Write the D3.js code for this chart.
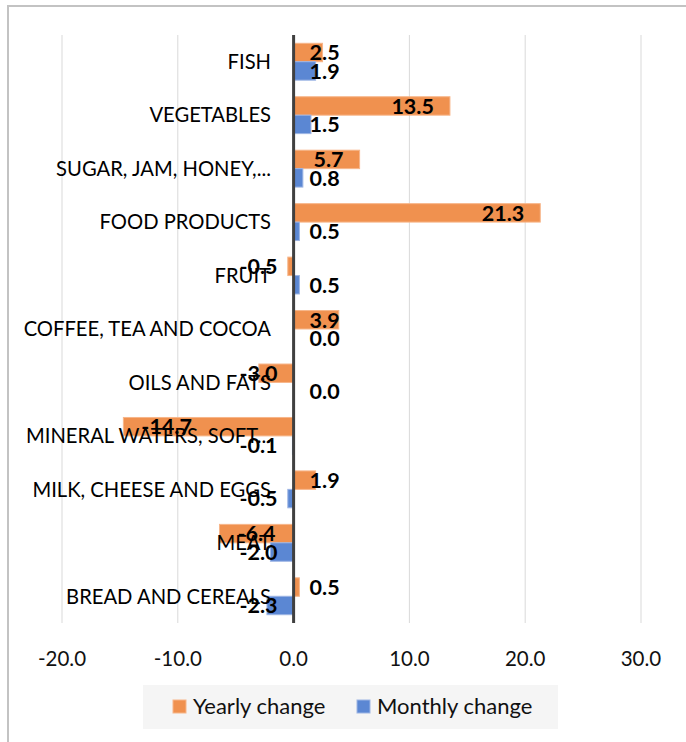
<!DOCTYPE html>
<html>
<head>
<meta charset="utf-8">
<script src="https://cdn.jsdelivr.net/npm/d3@7"></script>
<style>
  body { margin: 0; background: #fff; }
  text { font-family: Lato, "Open Sans", sans-serif; }
</style>
</head>
<body>
<div id="chart"></div>
<script>
// categories listed top to bottom as they appear on the chart
const categories = ["FISH", "VEGETABLES", "SUGAR, JAM, HONEY,...", "FOOD PRODUCTS", "FRUIT",
  "COFFEE, TEA AND COCOA", "OILS AND FATS", "MINERAL WATERS, SOFT...", "MILK, CHEESE AND EGGS",
  "MEAT", "BREAD AND CEREALS"];
const yearly = [2.5, 13.5, 5.7, 21.3, -0.5, 3.9, -3.0, -14.7, 1.9, -6.4, 0.5];
const monthly = [1.9, 1.5, 0.8, 0.5, 0.5, 0.0, 0.0, -0.1, -0.5, -2.0, -2.3];
const seriesNames = ["Yearly change", "Monthly change"];
const xTicks = [-20, -10, 0, 10, 20, 30];

const W = 686, H = 742;
const MARGIN = { TOP: 35, BOTTOM: 119, LEFT: 62, RIGHT: 45 };
const colors = { "Yearly change": "#f0914f", "Monthly change": "#5b87d3" };
const edges = { "Yearly change": "#f7b68a", "Monthly change": "#9db5e4" };

const svg = d3.select("#chart").append("svg")
  .attr("width", W).attr("height", H);

// chart area border (only left/top visible, rest is cropped)
svg.append("rect")
  .attr("x", 8).attr("y", 6).attr("width", 720).attr("height", 780)
  .attr("fill", "none").attr("stroke", "#c3c3c3").attr("stroke-width", 2);

const x = d3.scaleLinear().domain([-20, 30]).range([MARGIN.LEFT, W - MARGIN.RIGHT]);
const y = d3.scaleBand().domain(categories)
  .range([MARGIN.TOP, H - MARGIN.BOTTOM])
  .paddingInner(0.31).paddingOuter(0.155);
const ySub = d3.scaleBand().domain(seriesNames).range([0, y.bandwidth()]);

// gridlines
svg.append("g").selectAll("line").data(xTicks).join("line")
  .attr("x1", d => x(d)).attr("x2", d => x(d))
  .attr("y1", MARGIN.TOP).attr("y2", H - MARGIN.BOTTOM)
  .attr("stroke", "#d9d9d9").attr("stroke-width", 1);

// tick labels
svg.append("g").selectAll("text").data(xTicks).join("text")
  .attr("x", d => x(d)).attr("y", 666)
  .attr("text-anchor", "middle")
  .attr("font-size", 20.5).attr("fill", "#111")
  .text(d => d3.format(".1f")(d).replace("−", "-"));

const rows = categories.map((c, i) => ({ cat: c, vals: [yearly[i], monthly[i]] }));
const bars = [];
rows.forEach(r => r.vals.forEach((v, j) => bars.push({ cat: r.cat, s: seriesNames[j], v })));

// bars
svg.append("g").selectAll("rect").data(bars).join("rect")
  .attr("x", d => x(Math.min(0, d.v)))
  .attr("width", d => Math.abs(x(d.v) - x(0)))
  .attr("y", d => y(d.cat) + ySub(d.s))
  .attr("height", ySub.bandwidth())
  .attr("fill", d => colors[d.s])
  .attr("stroke", d => edges[d.s]).attr("stroke-width", 1);

// zero axis
svg.append("line")
  .attr("x1", x(0)).attr("x2", x(0))
  .attr("y1", MARGIN.TOP).attr("y2", H - MARGIN.BOTTOM)
  .attr("stroke", "#404040").attr("stroke-width", 3);

// category labels
svg.append("g").selectAll("text").data(categories).join("text")
  .attr("x", 271).attr("y", d => y(d) + y.bandwidth() / 2)
  .attr("dy", "0.36em")
  .attr("text-anchor", "end")
  .attr("font-size", 20.2).attr("fill", "#000")
  .text(d => d);

// data labels, placed inside end but never crossing the zero line
const pad = 16;
svg.append("g").selectAll("text").data(bars).join("text")
  .attr("y", d => y(d.cat) + ySub(d.s) + ySub.bandwidth() / 2)
  .attr("dy", "0.36em")
  .attr("font-size", 21.5).attr("font-weight", "bold").attr("fill", "#000")
  .text(d => d3.format(".1f")(d.v).replace("−", "-"))
  .each(function(d) {
    const w = this.getComputedTextLength();
    const el = d3.select(this);
    if (d.v >= 0) {
      const right = Math.max(x(d.v) - pad, x(0) + pad + w);
      el.attr("x", right).attr("text-anchor", "end");
    } else {
      const left = Math.min(x(d.v) + pad + 2, x(0) - pad - w);
      el.attr("x", left).attr("text-anchor", "start");
    }
  });

// legend
const lg = svg.append("g");
lg.append("rect").attr("x", 143).attr("y", 685).attr("width", 415).attr("height", 44)
  .attr("fill", "#f5f5f5");
const legendX = [173, 357];
seriesNames.forEach((s, i) => {
  lg.append("rect").attr("x", legendX[i]).attr("y", 700).attr("width", 13).attr("height", 13)
    .attr("fill", colors[s]).attr("stroke", edges[s]).attr("stroke-width", 1);
  lg.append("text").attr("x", legendX[i] + 20).attr("y", 714)
    .attr("font-size", 22).attr("fill", "#111").text(s);
});
</script>
</body>
</html>
